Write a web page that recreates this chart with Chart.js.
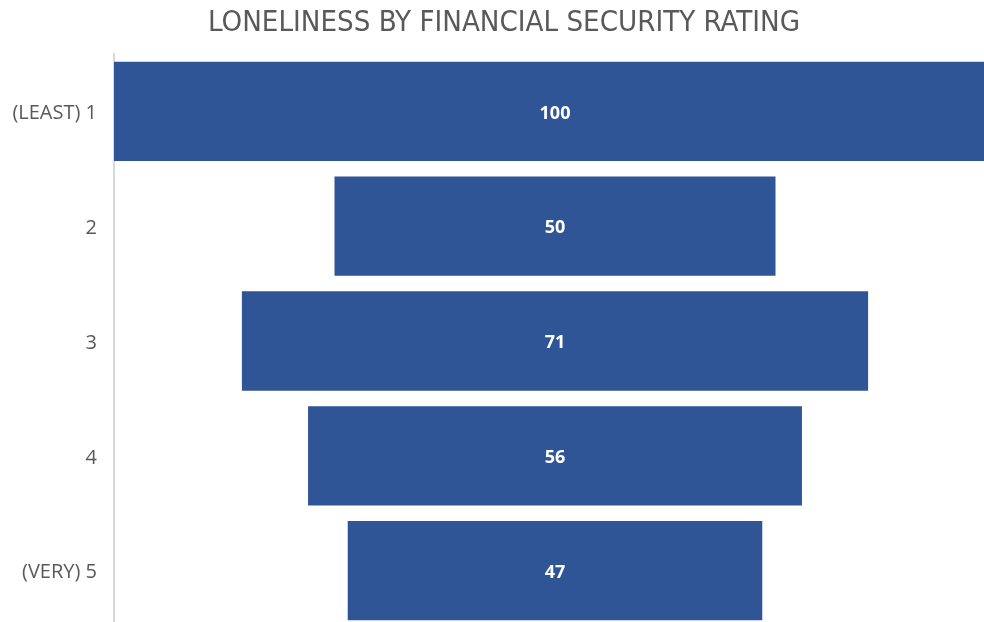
<!DOCTYPE html>
<html>
<head>
<meta charset="utf-8">
<script src="https://cdn.jsdelivr.net/npm/chart.js@4.4.1/dist/chart.umd.min.js"></script>
<style>
  html, body { margin: 0; padding: 0; background: #ffffff; overflow: hidden; }
  #wrap { width: 984px; height: 622px; overflow: hidden; position: relative; }
  canvas { position: absolute; left: 0; top: 0; }
</style>
</head>
<body>
<div id="wrap"><canvas id="funnel" width="1000" height="657"></canvas></div>
<script>
const chartTitle = 'LONELINESS BY FINANCIAL SECURITY RATING';
const categories = ['(LEAST) 1', '2', '3', '4', '(VERY) 5'];
const values = [100, 50, 71, 56, 47];

// centred floating bars make the funnel shape
const spans = values.map(v => [-v / 2, v / 2]);

const titlePlugin = {
  id: 'funnelTitle',
  afterDraw(chart) {
    const ctx = chart.ctx;
    ctx.save();
    ctx.font = '400 29px "Liberation Sans Narrow", "DejaVu Sans Condensed", sans-serif';
    ctx.fillStyle = '#595959';
    ctx.textAlign = 'center';
    ctx.textBaseline = 'middle';
    const targetW = 592;
    const w = ctx.measureText(chartTitle).width;
    const sx = targetW / w;
    ctx.translate(504, 23);
    ctx.scale(sx, 1);
    ctx.fillText(chartTitle, 0, 0);
    ctx.restore();
  }
};

const valueLabels = {
  id: 'valueLabels',
  afterDatasetsDraw(chart) {
    const ctx = chart.ctx;
    const meta = chart.getDatasetMeta(0);
    const xs = chart.scales.x;
    ctx.save();
    ctx.font = '700 18px "Open Sans", sans-serif';
    ctx.fillStyle = '#ffffff';
    ctx.textAlign = 'center';
    ctx.textBaseline = 'middle';
    meta.data.forEach((bar, i) => {
      ctx.fillText(String(values[i]), xs.getPixelForValue(0), bar.y + 2);
    });
    ctx.restore();
  }
};

new Chart(document.getElementById('funnel'), {
  type: 'bar',
  data: {
    labels: categories,
    datasets: [{
      data: spans,
      backgroundColor: '#2F5597',
      borderColor: '#2F5597',
      borderWidth: 0,
      categoryPercentage: 1,
      barPercentage: 0.865
    }]
  },
  options: {
    indexAxis: 'y',
    responsive: false,
    animation: false,
    layout: { padding: { top: 54, right: 4, bottom: 4, left: 0 } },
    plugins: {
      legend: { display: false },
      title: { display: false },
      tooltip: { enabled: false }
    },
    scales: {
      x: {
        display: false,
        min: -50,
        max: 50
      },
      y: {
        grid: { display: false, drawTicks: false },
        border: { display: true, color: '#d9d9d9', width: 2 },
        ticks: {
          color: '#595959',
          font: { family: '"Open Sans", sans-serif', size: 20 },
          padding: 17,
          labelOffset: 2
        },
        afterFit(scale) { scale.width = 114; }
      }
    }
  },
  plugins: [titlePlugin, valueLabels]
});
</script>
</body>
</html>
